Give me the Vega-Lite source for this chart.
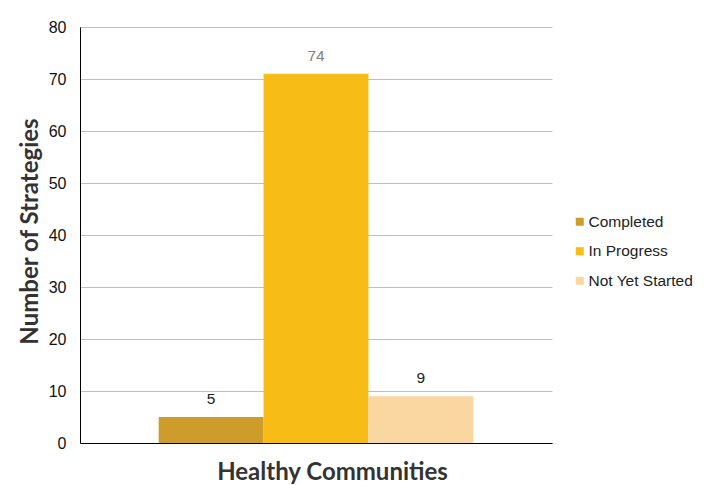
{
  "$schema": "https://vega.github.io/schema/vega-lite/v6.json",
  "width": 472,
  "height": 416,
  "autosize": {"type": "none"},
  "padding": {"left": 80, "top": 27, "right": 155, "bottom": 42},
  "background": "white",
  "config": {"view": {"stroke": null}, "font": "Liberation Sans"},
  "data": {"values": [
    {"group": "Healthy Communities", "status": "Completed", "count": 5, "label": "5"},
    {"group": "Healthy Communities", "status": "In Progress", "count": 71, "label": "74"},
    {"group": "Healthy Communities", "status": "Not Yet Started", "count": 9, "label": "9"}
  ]},
  "encoding": {
    "x": {
      "field": "group", "type": "nominal",
      "scale": {"paddingInner": 0, "paddingOuter": 0.25},
      "axis": {
        "labels": false, "ticks": false, "domainColor": "#000000", "domainWidth": 1,
        "title": "Healthy Communities", "titleFont": "Lato", "titleFontSize": 24,
        "titleFontWeight": "bold", "titleColor": "#333333", "titlePadding": 17, "titleX": 252
      }
    },
    "xOffset": {"field": "status", "type": "nominal", "scale": {"paddingInner": 0, "paddingOuter": 0}},
    "y": {
      "field": "count", "type": "quantitative",
      "scale": {"domain": [0, 80]},
      "axis": {
        "values": [0, 10, 20, 30, 40, 50, 60, 70, 80],
        "ticks": false, "labelPadding": 14, "labelFontSize": 16, "labelColor": "#111111",
        "gridColor": "#bfbfbf", "gridWidth": 1, "domainColor": "#000000", "domainWidth": 1,
        "title": "Number of Strategies", "titleFont": "Lato", "titleFontSize": 24,
        "titleFontWeight": "bold", "titleColor": "#333333", "titlePadding": 6, "titleY": 204
      }
    }
  },
  "layer": [
    {
      "mark": {"type": "bar"},
      "encoding": {
        "color": {
          "field": "status", "type": "nominal",
          "scale": {"domain": ["Completed", "In Progress", "Not Yet Started"], "range": ["#cd9c2a", "#f8bc17", "#fad6a0"]},
          "legend": {
            "title": null, "orient": "none", "legendX": 492, "legendY": 187,
            "symbolType": "square", "symbolSize": 64, "symbolStrokeWidth": 0,
            "labelFontSize": 15.5, "labelColor": "#222222", "labelOffset": 1, "rowPadding": 12.5
          }
        }
      }
    },
    {
      "mark": {"type": "text", "baseline": "middle", "dy": -18, "fontSize": 15.5},
      "encoding": {
        "text": {"field": "label"},
        "color": {"condition": {"test": "datum.status === 'In Progress'", "value": "#808080"}, "value": "#222222"}
      }
    }
  ]
}
